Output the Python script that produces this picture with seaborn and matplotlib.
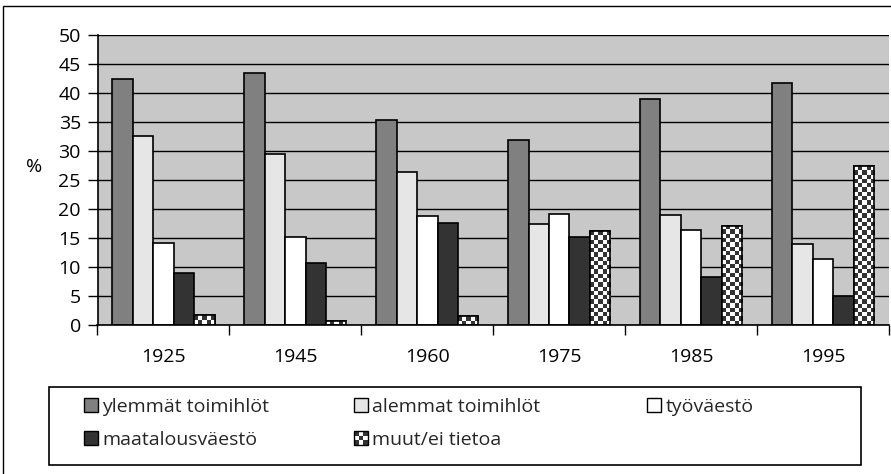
import numpy as np
import pandas as pd
import matplotlib
matplotlib.use("Agg")
import matplotlib.pyplot as plt
import seaborn as sns
from matplotlib.patches import Rectangle, Patch
from matplotlib.colors import ListedColormap
from matplotlib.legend_handler import HandlerBase

# Data
years = ["1925", "1945", "1960", "1975", "1985", "1995"]
groups = ["ylemmät toimihlöt", "alemmat toimihlöt", "työväestö",
          "maatalousväestö", "muut/ei tietoa"]

ylemmat = [42.4, 43.4, 35.4, 31.8, 38.9, 41.8]
alemmat = [32.5, 29.5, 26.4, 17.4, 18.9, 14.0]
tyovaesto = [14.1, 15.2, 18.7, 19.1, 16.3, 11.4]
maatalous = [8.9, 10.6, 17.5, 15.1, 8.2, 4.9]
muut = [1.6, 0.7, 1.5, 16.1, 17.1, 27.4]

colors = ["#808080", "#e6e6e6", "#ffffff", "#333333", "#ffffff"]
checker_cmap = ListedColormap(["#ffffff", "#333333"])

df = pd.DataFrame({
    "vuosi": years * 5,
    "ryhma": np.repeat(groups, len(years)),
    "osuus": ylemmat + alemmat + tyovaesto + maatalous + muut,
})

sns.set_theme(style="white")
plt.rcParams["font.family"] = ["Open Sans", "DejaVu Sans"]
fs = 14

fig = plt.figure(figsize=(8.91, 4.74), dpi=100)
ax = fig.add_axes([97.5 / 891, 1 - 324.7 / 474, 791.5 / 891, 289.7 / 474])
ax.set_facecolor("#c8c8c8")

sns.barplot(data=df, x="vuosi", y="osuus", hue="ryhma", order=years,
            hue_order=groups, palette=colors, saturation=1, width=0.775,
            gap=0, edgecolor="black", linewidth=1.2, errorbar=None,
            legend=False, ax=ax)

ax.set_xlim(-0.5, len(years) - 0.5)
ax.set_ylim(0, 50)

# checkerboard fill for the last group
cell = 4.3
for bar in ax.containers[4]:
    x0, y0 = bar.get_x(), bar.get_y()
    w, h = bar.get_width(), bar.get_height()
    p0 = ax.transData.transform((x0, y0))
    p1 = ax.transData.transform((x0 + w, y0 + h))
    nx = max(1, round((p1[0] - p0[0]) / cell))
    ny = max(1, round((p1[1] - p0[1]) / cell))
    board = np.indices((ny, nx)).sum(axis=0) % 2
    im = ax.imshow(board, extent=(x0, x0 + w, y0, y0 + h), cmap=checker_cmap,
                   interpolation="nearest", aspect="auto", origin="lower",
                   zorder=bar.get_zorder() + 0.1)
    im.set_clip_path(bar)
    ax.add_patch(Rectangle((x0, y0), w, h, fill=False, edgecolor="black",
                           linewidth=1.2, zorder=bar.get_zorder() + 0.2))

ax.set_xlim(-0.5, len(years) - 0.5)
ax.set_ylim(0, 50)
ax.set_yticks(range(0, 51, 5))
ax.yaxis.grid(True, color="black", linewidth=1.0)
ax.set_axisbelow(True)

for side in ["top", "right"]:
    ax.spines[side].set_visible(False)
for side in ["left", "bottom"]:
    ax.spines[side].set_color("black")
    ax.spines[side].set_linewidth(1.2)

ax.set_xticks(np.arange(-0.5, len(years), 1), minor=True)
ax.tick_params(axis="x", which="minor", bottom=True, length=7, width=1, color="black")
ax.tick_params(axis="x", which="major", bottom=False, length=0, pad=17,
               labelsize=fs, labelcolor="black")
ax.tick_params(axis="y", which="major", left=True, length=7, width=1,
               color="black", pad=5, labelsize=fs, labelcolor="black")
ax.set_xlabel("")
ax.set_ylabel("%", rotation=0, fontsize=fs, color="black", ha="center", va="center")
ax.yaxis.set_label_coords(-0.08, 0.545)


class CheckerHandler(HandlerBase):
    def create_artists(self, legend, orig_handle, xdescent, ydescent,
                       width, height, fontsize, trans):
        arts = []
        cw, ch = width / 3, height / 3
        for i in range(3):
            for j in range(3):
                fc = "#333333" if (i + j) % 2 == 0 else "#ffffff"
                arts.append(Rectangle((-xdescent + i * cw, -ydescent + j * ch), cw, ch,
                                      facecolor=fc, edgecolor="none", transform=trans))
        arts.append(Rectangle((-xdescent, -ydescent), width, height, facecolor="none",
                              edgecolor="black", linewidth=1, transform=trans))
        return arts


handles = [Patch(facecolor=c, edgecolor="black", linewidth=1) for c in colors]
columns = [([0, 3], 84), ([1, 4], 354), ([2], 647)]
for idx, xpix in columns:
    leg = fig.legend([handles[i] for i in idx], [groups[i] for i in idx],
                     handler_map={handles[4]: CheckerHandler()},
                     loc="upper left", bbox_to_anchor=(xpix / 891, 1 - 398 / 474),
                     frameon=False, fontsize=fs, borderpad=0, borderaxespad=0,
                     handlelength=0.7, handleheight=0.7, handletextpad=0.25,
                     labelspacing=0.75)

# legend box and outer chart border
fig.add_artist(Rectangle((49 / 891, 1 - 465 / 474), 812 / 891, 78 / 474,
                         transform=fig.transFigure, fill=False,
                         edgecolor="black", linewidth=1.2))
fig.add_artist(Rectangle((3 / 891, -0.1), 2, 1.1 - 6 / 474,
                         transform=fig.transFigure, fill=False,
                         edgecolor="black", linewidth=1.0))

fig.savefig("out.png", dpi=100)
